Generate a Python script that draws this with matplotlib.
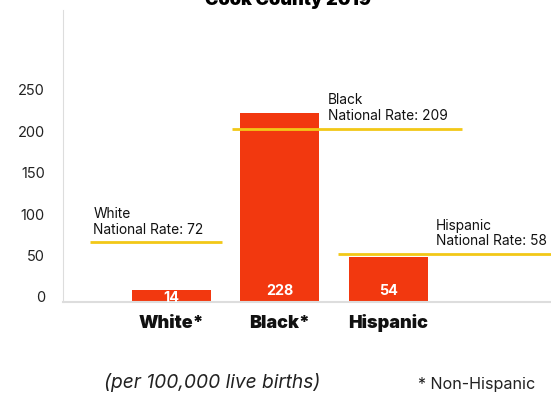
import matplotlib
matplotlib.use('Agg')
import matplotlib.pyplot as plt
import matplotlib.transforms as mtransforms

plt.rcParams['font.family'] = ['Inter', 'DejaVu Sans']

groups = ['White*', 'Black*', 'Hispanic']
county_rates = [14, 228, 54]
national_names = ['White', 'Black', 'Hispanic']
national_rates = [72, 209, 58]
yticks = [0, 50, 100, 150, 200, 250]

bar_color = '#f2380f'
line_color = '#f2c817'

fig = plt.figure(figsize=(5.51, 3.96), dpi=100)
ax = fig.add_axes([63/551, 94/396, 488/551, 292/396])

x = list(range(len(groups)))
ax.bar(x, county_rates, width=0.73, color=bar_color, zorder=2)

for i, v in enumerate(county_rates):
    ax.text(i, min(13, v * 0.38), str(v), ha='center', va='center', color='white',
            fontsize=10.3, fontweight='bold', zorder=3)

# national rate lines: (start, end) in bar units, label left edge
spans = [(-0.75, 0.465), (0.56, 2.68), (1.54, 3.5)]
text_x = [-0.72, 1.44, 2.44]
for (x0, x1), tx, name, r in zip(spans, text_x, national_names, national_rates):
    ax.plot([x0, x1], [r, r], color=line_color, lw=2, zorder=4, solid_capstyle='butt')
    ax.annotate('%s\nNational Rate: %d' % (name, r), (tx, r), xytext=(0, 4),
                textcoords='offset points', ha='left', va='bottom',
                fontsize=9.9, linespacing=1.15, color='#111111')

ax.set_xlim(-1.0, 3.5)
ax.set_ylim(0, 352)
ax.set_yticks(yticks)
ax.set_yticklabels([str(t) for t in yticks], fontsize=10.5, color='#222222')
ax.tick_params(axis='y', length=0, pad=13)
# tick labels sit a little above their gridline in the original
shift = mtransforms.ScaledTranslation(0, 5/100, fig.dpi_scale_trans)
for lab in ax.get_yticklabels():
    lab.set_transform(lab.get_transform() + shift)
ax.set_xticks(x)
ax.set_xticklabels(groups, fontsize=13, fontweight='black', color='#111111')
ax.tick_params(axis='x', length=0, pad=9)

for s in ['top', 'right']:
    ax.spines[s].set_visible(False)
ax.spines['left'].set_color('#dddddd')
ax.spines['bottom'].set_color('#dddddd')
ax.spines['bottom'].set_linewidth(1.5)

fig.text(288/551, 1 - 5/396, 'Cook County 2019', ha='center', va='baseline',
         fontsize=13, fontweight='black')
fig.text(212/551, 13/396, '(per 100,000 live births)', ha='center', va='center',
         fontsize=13.8, style='italic', color='#222222')
fig.text(418/551, 11/396, '* Non-Hispanic', ha='left', va='center',
         fontsize=11.6, color='#222222')

fig.savefig('out.png', dpi=100)
